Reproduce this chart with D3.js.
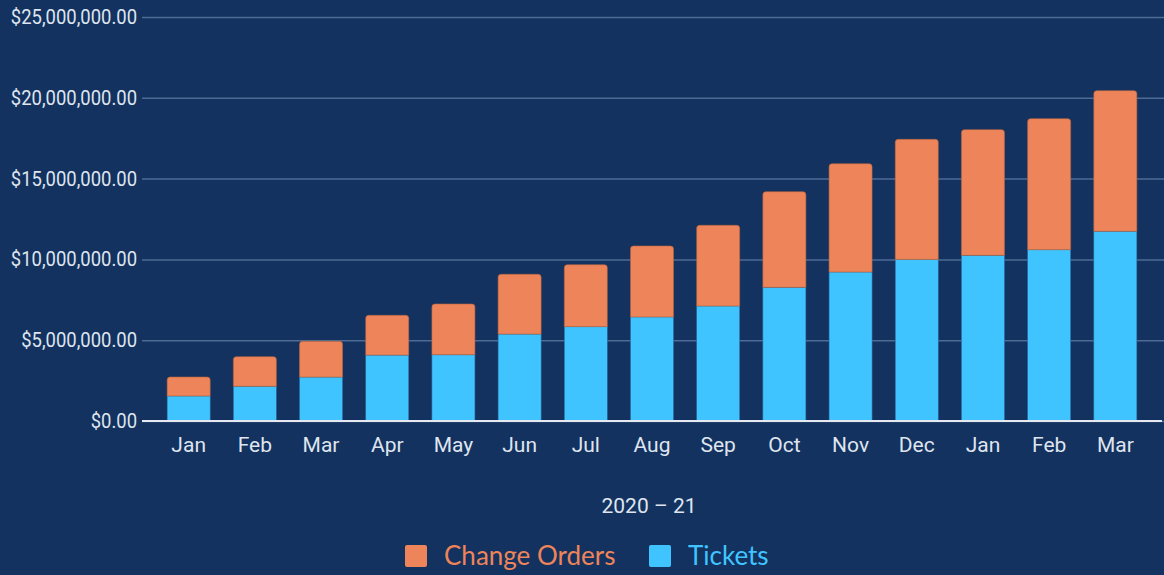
<!DOCTYPE html>
<html>
<head>
<meta charset="utf-8">
<script src="https://d3js.org/d3.v7.min.js"></script>
<style>
  body { margin: 0; background: #13325f; }
  svg { display: block; }
</style>
</head>
<body>
<div id="chart"></div>
<script>
// data
var months = ["Jan", "Feb", "Mar", "Apr", "May", "Jun", "Jul", "Aug", "Sep", "Oct", "Nov", "Dec", "Jan", "Feb", "Mar"];
var tickets = [1550000, 2150000, 2720000, 4080000, 4100000, 5380000, 5840000, 6440000, 7120000, 8270000, 9220000, 10000000, 10250000, 10600000, 11740000];
var changeOrders = [1170000, 1830000, 2210000, 2460000, 3140000, 3700000, 3830000, 4390000, 4990000, 5920000, 6700000, 7430000, 7780000, 8110000, 8700000];
var yTicks = [0, 5000000, 10000000, 15000000, 20000000, 25000000];
var seriesNames = ["Change Orders", "Tickets"];
var xTitle = "2020 \u2013 21";

var svgWidth = 1164;
var svgHeight = 575;
var margin = { top: 17, right: 2, bottom: 154, left: 142 };
var width = svgWidth - margin.left - margin.right;
var height = svgHeight - margin.top - margin.bottom;

var orange = "#ee8459";
var blue = "#40c4ff";
var textColor = "#dfe5ef";

var svg = d3.select("#chart")
    .append("svg")
    .attr("width", svgWidth)
    .attr("height", svgHeight);

svg.append("rect")
    .attr("width", svgWidth)
    .attr("height", svgHeight)
    .attr("fill", "#13325f");

var chartGroup = svg.append("g")
    .attr("transform", `translate(${margin.left}, ${margin.top})`);

// scales
var xBandScale = d3.scaleBand()
    .domain(d3.range(months.length))
    .range([0, width])
    .paddingInner(0.35)
    .paddingOuter(0.38);

var yLinearScale = d3.scaleLinear()
    .domain([0, 25000000])
    .range([height, 0]);

// gridlines + y labels
var leftAxis = d3.axisLeft(yLinearScale)
    .tickValues(yTicks)
    .tickSize(-width - margin.right)
    .tickPadding(5)
    .tickFormat(d => "$" + d3.format(",.2f")(d));

var yAxisGroup = chartGroup.append("g").call(leftAxis);
yAxisGroup.select(".domain").remove();
yAxisGroup.selectAll(".tick line")
    .attr("stroke", "#4f6b94")
    .attr("stroke-width", 1.5);
yAxisGroup.selectAll(".tick text")
    .attr("fill", textColor)
    .style("font-family", "Roboto, sans-serif")
    .style("font-size", "20.5px")
    .each(function () {
        // the labels in the picture are a bit narrow
        var len = this.getComputedTextLength();
        d3.select(this).attr("textLength", len * 0.9).attr("lengthAdjust", "spacingAndGlyphs");
    });

// stacked bars
var bw = xBandScale.bandwidth();
var r = 3;

chartGroup.selectAll("rect.ticket")
    .data(tickets)
    .enter()
    .append("rect")
    .attr("class", "ticket")
    .attr("x", (d, i) => xBandScale(i))
    .attr("y", d => yLinearScale(d))
    .attr("width", bw)
    .attr("height", d => height - yLinearScale(d))
    .attr("fill", blue)
    .attr("stroke", "#2a6aa0")
    .attr("stroke-width", 0.6);

chartGroup.selectAll("path.change")
    .data(changeOrders)
    .enter()
    .append("path")
    .attr("class", "change")
    .attr("d", function (d, i) {
        var x0 = xBandScale(i);
        var yb = yLinearScale(tickets[i]);
        var yt = yLinearScale(tickets[i] + d);
        return `M${x0},${yb} L${x0},${yt + r} Q${x0},${yt} ${x0 + r},${yt} L${x0 + bw - r},${yt} Q${x0 + bw},${yt} ${x0 + bw},${yt + r} L${x0 + bw},${yb} Z`;
    })
    .attr("fill", orange)
    .attr("stroke", "#b5643f")
    .attr("stroke-width", 0.6);

// baseline
chartGroup.append("line")
    .attr("x1", 0)
    .attr("x2", width)
    .attr("y1", height)
    .attr("y2", height)
    .attr("stroke", "#e6e9ef")
    .attr("stroke-width", 2);

// x labels
var bottomAxis = d3.axisBottom(xBandScale)
    .tickSize(0)
    .tickPadding(16)
    .tickFormat(i => months[i]);

var xAxisGroup = chartGroup.append("g")
    .attr("transform", `translate(0, ${height})`)
    .call(bottomAxis);
xAxisGroup.select(".domain").remove();
xAxisGroup.selectAll(".tick text")
    .attr("fill", textColor)
    .style("font-family", "Roboto, sans-serif")
    .style("font-size", "21px");

// x title
svg.append("text")
    .attr("x", 649)
    .attr("y", 513)
    .attr("text-anchor", "middle")
    .attr("fill", textColor)
    .style("font-family", "Roboto, sans-serif")
    .style("font-size", "21px")
    .text(xTitle);

// legend
var legendColors = [orange, blue];
var legendX = [405, 649];
var legend = svg.selectAll("g.legend")
    .data(seriesNames)
    .enter()
    .append("g")
    .attr("class", "legend")
    .attr("transform", (d, i) => `translate(${legendX[i]}, 545)`);

legend.append("rect")
    .attr("width", 22)
    .attr("height", 22)
    .attr("rx", 2)
    .attr("fill", (d, i) => legendColors[i]);

legend.append("text")
    .attr("x", 39)
    .attr("y", 20)
    .attr("fill", (d, i) => legendColors[i])
    .style("font-family", "Lato, sans-serif")
    .style("font-size", "26px")
    .text(d => d);
</script>
</body>
</html>
